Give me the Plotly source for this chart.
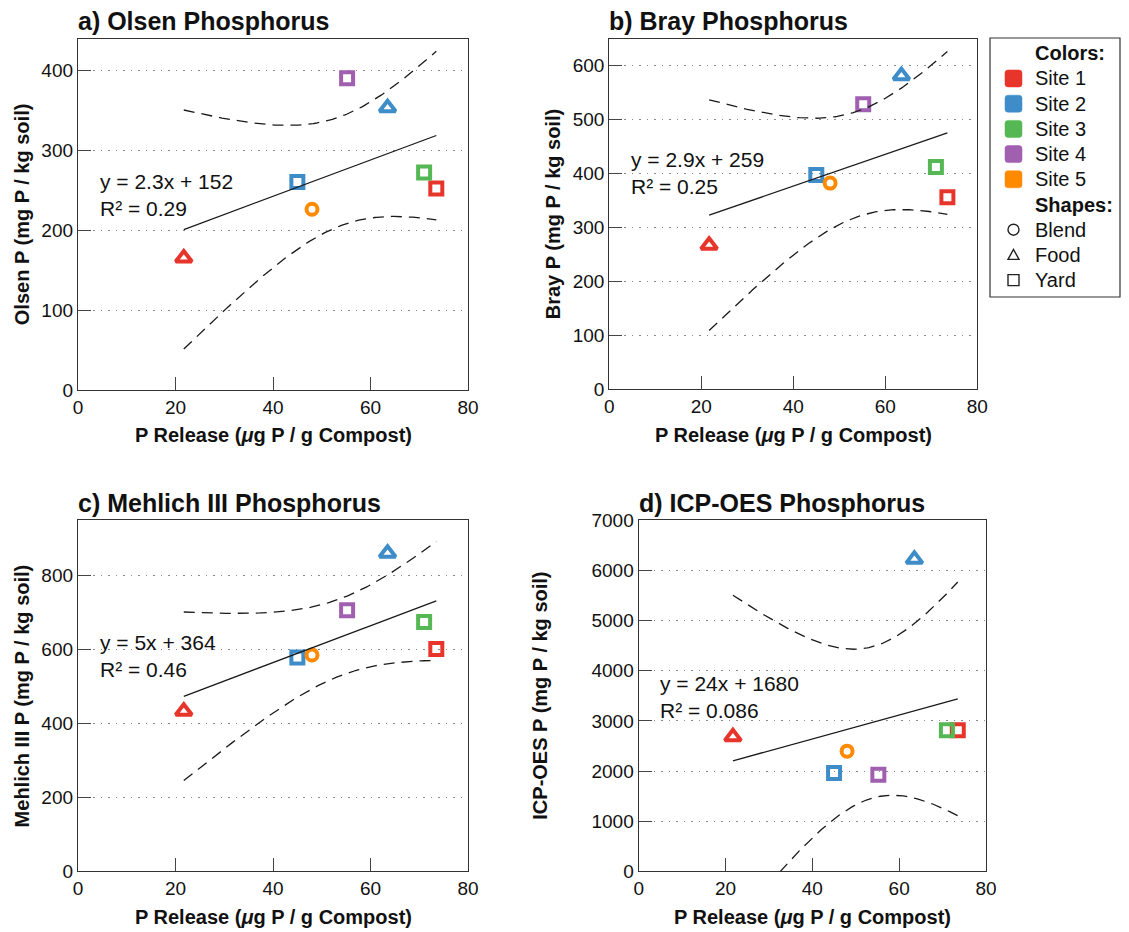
import numpy as np
import plotly.graph_objects as go

W, H = 1129, 932

# ---------------- data ----------------
sites = ["Site 1", "Site 2", "Site 3", "Site 4", "Site 5"]
site_colors = ["#E8352B", "#3E8DC9", "#55B854", "#A15FB0", "#FF8A00"]
shape_names = ["Blend", "Food", "Yard"]

sample_site = [0, 0, 1, 1, 2, 3, 4]
sample_type = ["Food", "Yard", "Food", "Yard", "Yard", "Yard", "Blend"]
p_release = [21.7, 73.5, 63.5, 45.0, 71.0, 55.2, 48.0]
olsen_p = [165, 252, 353, 260, 272, 390, 226]
bray_p = [267, 356, 581, 397, 412, 528, 382]
mehlich_p = [432, 600, 859, 577, 673, 705, 584]
icp_p = [2681, 2815, 6221, 1958, 2815, 1925, 2396]

panel_titles = ["a) Olsen Phosphorus", "b) Bray Phosphorus",
                "c) Mehlich III Phosphorus", "d) ICP-OES Phosphorus"]
y_titles = ["Olsen P (mg P / kg soil)", "Bray P (mg P / kg soil)",
            "Mehlich III P (mg P / kg soil)", "ICP-OES P (mg P / kg soil)"]
x_title = "P Release (<i>μ</i>g P / g Compost)"
eq_labels = ["y = 2.3x + 152", "y = 2.9x + 259", "y = 5x + 364", "y = 24x + 1680"]
r2_labels = ["0.29", "0.25", "0.46", "0.086"]
y_max = [439, 649, 948, 7000]
y_dtick = [100, 100, 200, 1000]

panel_values = [olsen_p, bray_p, mehlich_p, icp_p]

# ---------------- layout geometry (pixels) ----------------
boxes = [(78, 39, 468, 390), (609.3, 39, 977.3, 389.3),
         (78, 520.3, 468, 871), (638.7, 520.3, 986, 871.3)]
eq_pos = [(4.0, 244.5), (4.3, 400), (4.1, 581), (4.4, 3469)]
xt_pos = [(273, 435), (793.3, 435), (273, 916.7), (812.3, 916.7)]
yt_pos = [(21.7, 214.5), (553.3, 214), (21.7, 695.7), (540, 695.7)]
title_pos = [(76, 21), (607.3, 21), (76, 503), (636.7, 503)]

FONT = "Liberation Sans, Arial, Helvetica, sans-serif"
T_CRIT = 2.5706  # t(0.975, df=5)


def PX(x):
    return x / W


def PY(y):
    return 1 - y / H


symbol_map = {"Blend": "circle-open", "Food": "triangle-up-open", "Yard": "square-open"}
size_map = {"Blend": 11, "Food": 14, "Yard": 12}

fig = go.Figure()
annotations = []
shapes = []

for i in range(4):
    xa = "x" if i == 0 else f"x{i+1}"
    ya = "y" if i == 0 else f"y{i+1}"
    xv = np.array(p_release, dtype=float)
    yv = np.array(panel_values[i], dtype=float)
    cols = [site_colors[s] for s in sample_site]

    fig.add_trace(go.Scatter(
        x=xv, y=yv, mode="markers", xaxis=xa, yaxis=ya, showlegend=False,
        marker=dict(symbol=[symbol_map[t] for t in sample_type],
                    size=[size_map[t] for t in sample_type],
                    color=cols, opacity=1, line=dict(color=cols, width=4)),
        hoverinfo="x+y"))

    # linear fit + 95% confidence band of the mean
    n = len(xv)
    xbar = xv.mean()
    sxx = ((xv - xbar) ** 2).sum()
    slope = ((xv - xbar) * (yv - yv.mean())).sum() / sxx
    icpt = yv.mean() - slope * xbar
    resid = yv - (slope * xv + icpt)
    s = np.sqrt((resid ** 2).sum() / (n - 2))
    xs = np.linspace(xv.min(), xv.max(), 120)
    fit = slope * xs + icpt
    hw = T_CRIT * s * np.sqrt(1 / n + (xs - xbar) ** 2 / sxx)

    fig.add_trace(go.Scatter(x=xs, y=fit, mode="lines", xaxis=xa, yaxis=ya,
                             showlegend=False, hoverinfo="skip",
                             line=dict(color="#1a1a1a", width=1.3)))
    for band in (fit + hw, fit - hw):
        fig.add_trace(go.Scatter(x=xs, y=band, mode="lines", xaxis=xa, yaxis=ya,
                                 showlegend=False, hoverinfo="skip",
                                 line=dict(color="#1a1a1a", width=1.3, dash="11px,7px")))

    x0, y0, x1, y1 = boxes[i]
    common = dict(ticks="inside", ticklen=13, tickwidth=1.4, tickcolor="#444",
                  showline=True, linecolor="#333", linewidth=1.3, mirror=True,
                  zeroline=False, automargin=False,
                  tickfont=dict(family=FONT, size=19, color="#111"),
                  fixedrange=True)
    fig.update_layout({
        ("xaxis" if i == 0 else f"xaxis{i+1}"): dict(
            domain=[PX(x0), PX(x1)], anchor=ya, range=[0, 80], dtick=20, tick0=0,
            showgrid=False, **common),
        ("yaxis" if i == 0 else f"yaxis{i+1}"): dict(
            domain=[PY(y1), PY(y0)], anchor=xa, range=[0, y_max[i]], dtick=y_dtick[i], tick0=0,
            showgrid=True, gridcolor="#8a8a8a", gridwidth=1.3, griddash="1.5px,6px",
            **common),
    })

    ex, ey = eq_pos[i]
    annotations.append(dict(
        x=ex, y=ey, xref=xa, yref=ya, xanchor="left", yanchor="middle", align="left",
        showarrow=False, text=f"{eq_labels[i]}<br>R² = {r2_labels[i]}",
        font=dict(family=FONT, size=21, color="#111")))
    tx, ty = title_pos[i]
    annotations.append(dict(
        x=PX(tx), y=PY(ty), xref="paper", yref="paper", xanchor="left", yanchor="middle",
        showarrow=False, text=f"<b>{panel_titles[i]}</b>",
        font=dict(family=FONT, size=25, color="#111")))
    ax_, ay_ = xt_pos[i]
    annotations.append(dict(
        x=PX(ax_), y=PY(ay_), xref="paper", yref="paper", xanchor="center", yanchor="middle",
        showarrow=False, text=f"<b>{x_title}</b>",
        font=dict(family=FONT, size=20, color="#111")))
    bx_, by_ = yt_pos[i]
    annotations.append(dict(
        x=PX(bx_), y=PY(by_), xref="paper", yref="paper", xanchor="center", yanchor="middle",
        showarrow=False, textangle=-90, text=f"<b>{y_titles[i]}</b>",
        font=dict(family=FONT, size=20, color="#111")))

# ---------------- manual legend ----------------
LG = dict(x0=990, y0=38, x1=1120, y1=297)
row0, row_h = 53.3, 25.2
sym_cx, text_x = 1013.5, 1033

shapes.append(dict(type="rect", xref="paper", yref="paper",
                   x0=PX(LG["x0"]), x1=PX(LG["x1"]), y0=PY(LG["y1"]), y1=PY(LG["y0"]),
                   line=dict(color="#333", width=1.2), fillcolor="white", layer="below"))


def rrect_path(cx, cy, half, r):
    x0, x1, y0, y1 = cx - half, cx + half, cy - half, cy + half
    pts = [("M", x0 + r, y0), ("L", x1 - r, y0), ("Q", x1, y0, x1, y0 + r),
           ("L", x1, y1 - r), ("Q", x1, y1, x1 - r, y1), ("L", x0 + r, y1),
           ("Q", x0, y1, x0, y1 - r), ("L", x0, y0 + r), ("Q", x0, y0, x0 + r, y0)]
    out = ""
    for p in pts:
        cmd = p[0]
        coords = p[1:]
        segs = []
        for k in range(0, len(coords), 2):
            segs.append(f"{PX(coords[k]):.6f},{PY(coords[k+1]):.6f}")
        out += cmd + " ".join(segs) + " "
    return out + "Z"


row = 0
annotations.append(dict(x=PX(text_x), y=PY(row0 + row_h * row), xref="paper", yref="paper",
                        xanchor="left", yanchor="middle", showarrow=False,
                        text="<b>Colors:</b>", font=dict(family=FONT, size=20, color="#111")))
row += 1
for name, col in zip(sites, site_colors):
    cy = row0 + row_h * row
    shapes.append(dict(type="path", xref="paper", yref="paper",
                       path=rrect_path(sym_cx, cy, 8.5, 3), fillcolor=col,
                       line=dict(color=col, width=0.5)))
    annotations.append(dict(x=PX(text_x), y=PY(cy), xref="paper", yref="paper",
                            xanchor="left", yanchor="middle", showarrow=False,
                            text=name, font=dict(family=FONT, size=20, color="#111")))
    row += 1
annotations.append(dict(x=PX(text_x), y=PY(row0 + row_h * row), xref="paper", yref="paper",
                        xanchor="left", yanchor="middle", showarrow=False,
                        text="<b>Shapes:</b>", font=dict(family=FONT, size=20, color="#111")))
row += 1
for name in shape_names:
    cy = row0 + row_h * row
    if name == "Blend":
        shapes.append(dict(type="circle", xref="paper", yref="paper",
                           x0=PX(sym_cx - 5.5), x1=PX(sym_cx + 5.5),
                           y0=PY(cy + 5.5), y1=PY(cy - 5.5),
                           line=dict(color="#222", width=1.4)))
    elif name == "Food":
        p = (f"M{PX(sym_cx - 5.5):.6f},{PY(cy + 4.5):.6f} "
             f"L{PX(sym_cx + 5.5):.6f},{PY(cy + 4.5):.6f} "
             f"L{PX(sym_cx):.6f},{PY(cy - 5.5):.6f} Z")
        shapes.append(dict(type="path", xref="paper", yref="paper", path=p,
                           line=dict(color="#222", width=1.4)))
    else:
        shapes.append(dict(type="rect", xref="paper", yref="paper",
                           x0=PX(sym_cx - 5.5), x1=PX(sym_cx + 5.5),
                           y0=PY(cy + 5.5), y1=PY(cy - 5.5),
                           line=dict(color="#222", width=1.4)))
    annotations.append(dict(x=PX(text_x), y=PY(cy), xref="paper", yref="paper",
                            xanchor="left", yanchor="middle", showarrow=False,
                            text=name, font=dict(family=FONT, size=20, color="#111")))
    row += 1

fig.update_layout(
    template="none",
    width=W, height=H, margin=dict(l=0, r=0, t=0, b=0, pad=0),
    paper_bgcolor="white", plot_bgcolor="white",
    font=dict(family=FONT, color="#111"),
    showlegend=False, annotations=annotations, shapes=shapes,
)

fig.write_html("out.html", config={"displayModeBar": False},
               post_script="document.body.style.margin='0';document.body.style.overflow='hidden';")
